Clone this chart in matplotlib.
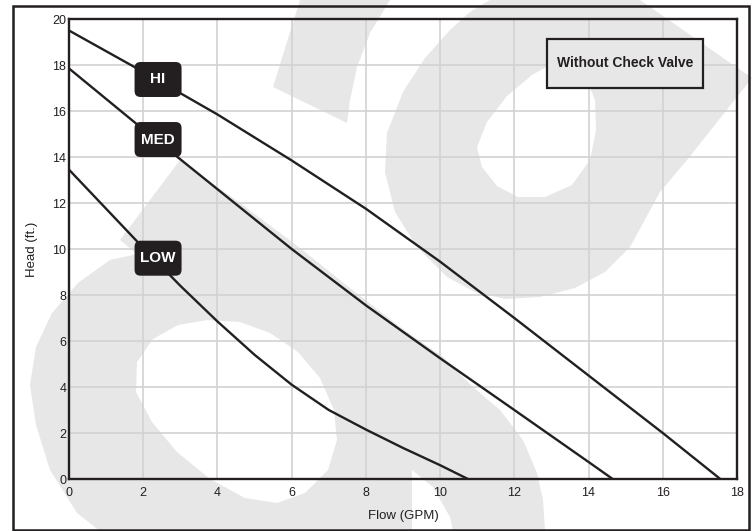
import matplotlib
matplotlib.use("Agg")
import matplotlib.pyplot as plt
from matplotlib.patches import Polygon, Rectangle, FancyBboxPatch

plt.rcParams['font.family'] = ['Liberation Sans', 'DejaVu Sans']

# Pump performance curves (flow in GPM, head in ft)
flow_hi = [0, 2, 4, 6, 8, 10, 12, 14, 16, 17.55]
head_hi = [19.5, 17.7, 15.85, 13.85, 11.75, 9.45, 7.0, 4.5, 2.0, 0]
flow_med = [0, 2, 4, 6, 8, 10, 12, 14, 14.65]
head_med = [17.85, 15.2, 12.6, 10.0, 7.55, 5.25, 3.0, 0.74, 0]
flow_low = [0, 1, 2, 3, 4, 5, 6, 7, 8, 9, 10, 10.75]
head_low = [13.45, 11.75, 10.05, 8.4, 6.85, 5.4, 4.1, 3.0, 2.15, 1.35, 0.6, 0]

speed_names = ["HI", "MED", "LOW"]
x_ticks = list(range(0, 19, 2))
y_ticks = list(range(0, 21, 2))

INK = '#231f20'
WM = '#e7e7e7'
W, H = 754, 531

fig = plt.figure(figsize=(W / 100, H / 100), dpi=100)
fig.patch.set_facecolor('white')


def to_fig(points):
    return [(x / W, 1 - y / H) for x, y in points]


# Background logo watermark (figure pixel outlines)
slab = [(300, 0), (273, 87), (347, 123), (350, 100), (357, 67), (370, 33), (390, 0)]
ring_top = [(490, 0), (640, 0), (752, 78), (687, 160), (660, 192), (630, 247),
            (605, 272), (575, 288), (540, 297), (505, 299), (475, 292), (447, 277),
            (417, 247), (395, 212), (385, 172), (387, 133), (403, 92), (425, 58),
            (450, 30), (470, 12)]
hole_top = [(567, 62), (585, 75), (595, 100), (596, 130), (590, 160), (572, 185),
            (545, 197), (518, 197), (497, 186), (482, 167), (477, 147), (487, 122),
            (507, 96), (532, 75), (552, 64)]
swoosh = [(100, 531), (77, 513), (50, 470), (36, 425), (30, 385), (36, 347),
          (52, 313), (78, 283), (110, 260), (137, 254), (120, 240), (150, 200),
          (180, 160), (240, 203), (300, 248), (350, 288), (400, 327), (443, 357),
          (473, 387), (500, 410), (523, 440), (537, 473), (543, 500), (545, 531),
          (453, 531), (450, 517), (433, 487), (412, 470), (412, 531)]
hole_low = [(207, 320), (240, 322), (270, 333), (298, 352), (320, 378), (334, 410),
            (337, 440), (328, 470), (305, 493), (277, 503), (245, 498), (210, 479),
            (177, 452), (152, 422), (136, 392), (137, 362), (153, 339), (178, 325)]

for pts, col in [(slab, WM), (ring_top, WM), (hole_top, 'white'),
                 (swoosh, WM), (hole_low, 'white')]:
    fig.add_artist(Polygon(to_fig(pts), closed=True, facecolor=col,
                           edgecolor='none', transform=fig.transFigure, zorder=-5))

ax = fig.add_axes([69 / W, 1 - 479 / H, (737 - 69) / W, (479 - 19) / H])
ax.set_facecolor('none')
ax.set_xlim(0, 18)
ax.set_ylim(0, 20)
ax.set_xticks(x_ticks)
ax.set_yticks(y_ticks)
ax.tick_params(length=0, labelsize=9, colors=INK)
ax.tick_params(axis='x', pad=6)
ax.tick_params(axis='y', pad=2)
ax.grid(True, color='#d2d2d2', linewidth=1.2, zorder=0)
ax.set_axisbelow(True)
for sp in ax.spines.values():
    sp.set_color(INK)
    sp.set_linewidth(1.7)
    sp.set_zorder(3)

ax.set_xlabel("Flow (GPM)", fontsize=9.5, color=INK)
ax.set_ylabel("Head (ft.)", fontsize=9.5, color=INK)
ax.xaxis.set_label_coords(0.5, -0.080)
ax.xaxis.label.set_va('center')
ax.yaxis.set_label_coords(-0.055, 0.5)
ax.yaxis.label.set_va('center')

for fx, hy in [(flow_hi, head_hi), (flow_med, head_med), (flow_low, head_low)]:
    ax.plot(fx, hy, color=INK, linewidth=1.7, solid_capstyle='butt', zorder=4,
            clip_on=False)

# Speed tags on the curves
tag_x = 2.4
tag_y = [17.37, 14.76, 9.6]
bw, bh = 47 / 668 * 18, 35 / 460 * 20
aspect = (20 / 460) / (18 / 668)
for name, ty in zip(speed_names, tag_y):
    box = FancyBboxPatch((tag_x - bw / 2, ty - bh / 2), bw, bh,
                         boxstyle="round,pad=0,rounding_size=0.16",
                         mutation_aspect=aspect, facecolor=INK, edgecolor='none',
                         zorder=6)
    ax.add_patch(box)
    ax.text(tag_x, ty, name, color='white', fontsize=11, fontweight='bold',
            ha='center', va='center', zorder=7)

# Condition note
note = Rectangle((0.716, 0.850), 0.233, 0.107, transform=ax.transAxes,
                 facecolor=WM, edgecolor=INK, linewidth=1.6, zorder=5)
ax.add_patch(note)
ax.text(0.8325, 0.9035, "Without Check Valve", transform=ax.transAxes,
        fontsize=10, fontweight='bold', color=INK, ha='center', va='center',
        zorder=6)

# Outer frame
fig.add_artist(Rectangle((12.5 / W, 1 - 529.5 / H), (748.5 - 12.5) / W,
                         (529.5 - 5.5) / H, transform=fig.transFigure,
                         fill=False, edgecolor=INK, linewidth=1.8, zorder=10))

fig.savefig("out.png", dpi=100)
